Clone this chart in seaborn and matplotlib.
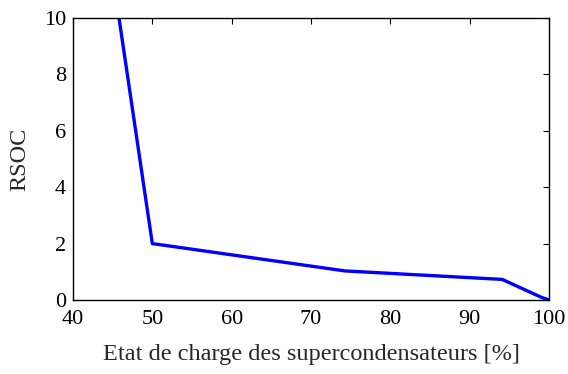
import matplotlib
matplotlib.use("Agg")
import matplotlib.pyplot as plt
import seaborn as sns
import pandas as pd

# State of charge of the supercapacitors [%] and the corresponding RSOC value
soc = [45.8, 50.0, 74.3, 94.1, 99.0, 100.0]
rsoc = [10.0, 2.0, 1.03, 0.73, 0.1, 0.0]

x_ticks = [40, 50, 60, 70, 80, 90, 100]
y_ticks = [0, 2, 4, 6, 8, 10]

sns.set_style("white")
plt.rcParams["font.family"] = ["Liberation Serif", "DejaVu Serif"]

df = pd.DataFrame({"soc": soc, "rsoc": rsoc})

fig = plt.figure(figsize=(5.68, 3.74), dpi=100)
ax = fig.add_axes([0.1285, 0.1979, 0.838, 0.754])
sns.lineplot(data=df, x="soc", y="rsoc", ax=ax, color="#0000ff", linewidth=2.4,
             sort=False, estimator=None)

ax.set_xlim(40, 100)
ax.set_ylim(0, 10)
ax.set_xticks(x_ticks)
ax.set_yticks(y_ticks)
ax.tick_params(direction="in", length=4, width=0.8, top=True, right=True,
               labelsize=16, colors="black")
ax.tick_params(axis="x", pad=7)
ax.tick_params(axis="y", pad=5)
for s in ax.spines.values():
    s.set_visible(True)
    s.set_color("black")
    s.set_linewidth(1.0)

ax.set_xlabel("Etat de charge des supercondensateurs [%]", fontsize=17.5, labelpad=11)
ax.set_ylabel("RSOC", fontsize=17.5, labelpad=10)

fig.savefig("out.png", dpi=100)
